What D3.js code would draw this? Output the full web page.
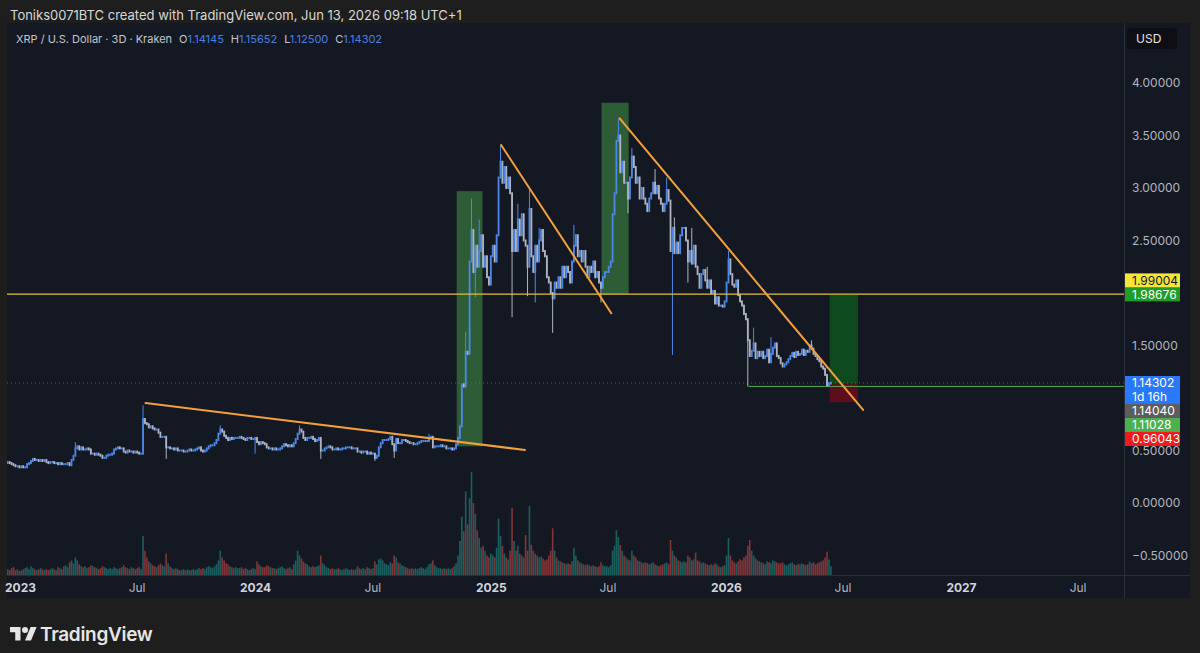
<!DOCTYPE html>
<html>
<head>
<meta charset="utf-8">
<script src="https://cdn.jsdelivr.net/npm/d3@7"></script>
<style>
  body { margin: 0; background: #1e1e1e; }
  svg { display: block; font-family: Inter, "Noto Sans", sans-serif; }
</style>
</head>
<body>
<script>
const W = 1200, H = 653;

// 3D candles, first bar opens 2022-12-13, one row ~ one month (10 bars)
const firstBar = "2022-12-13";
const firstOpen = 0.38;
const closeRows = [
  [0.39,0.38,0.37,0.36,0.35,0.35,0.34,0.35,0.34,0.34],
  [0.37,0.38,0.40,0.42,0.41,0.41,0.40,0.41,0.40,0.41],
  [0.39,0.38,0.39,0.39,0.38,0.38,0.37,0.38,0.37,0.37],
  [0.37,0.38,0.36,0.41,0.45,0.52,0.54,0.51,0.53,0.51],
  [0.51,0.52,0.51,0.47,0.47,0.46,0.47,0.46,0.45,0.43],
  [0.43,0.45,0.46,0.46,0.47,0.51,0.52,0.53,0.52,0.52],
  [0.49,0.48,0.50,0.49,0.49,0.48,0.49,0.48,0.47,0.47],
  [0.80,0.76,0.75,0.72,0.73,0.71,0.70,0.70,0.67,0.63],
  [0.63,0.63,0.53,0.53,0.52,0.52,0.51,0.52,0.50,0.50],
  [0.50,0.49,0.49,0.50,0.51,0.50,0.50,0.51,0.52,0.53],
  [0.50,0.49,0.50,0.52,0.54,0.55,0.55,0.57,0.60,0.66],
  [0.70,0.68,0.64,0.62,0.60,0.62,0.61,0.62,0.62,0.62],
  [0.63,0.62,0.61,0.60,0.62,0.62,0.61,0.61,0.62,0.58],
  [0.56,0.58,0.57,0.56,0.53,0.52,0.52,0.51,0.52,0.51],
  [0.51,0.52,0.54,0.56,0.55,0.54,0.55,0.54,0.57,0.61],
  [0.66,0.70,0.68,0.62,0.60,0.62,0.62,0.63,0.61,0.59],
  [0.60,0.62,0.50,0.50,0.52,0.53,0.54,0.53,0.51,0.51],
  [0.52,0.51,0.51,0.52,0.52,0.53,0.53,0.53,0.52,0.52],
  [0.52,0.49,0.49,0.48,0.49,0.49,0.47,0.48,0.47,0.47],
  [0.43,0.45,0.53,0.57,0.60,0.60,0.60,0.61,0.63,0.56],
  [0.50,0.61,0.57,0.57,0.60,0.60,0.59,0.58,0.57,0.57],
  [0.56,0.56,0.57,0.58,0.59,0.59,0.59,0.59,0.62,0.63],
  [0.53,0.54,0.54,0.54,0.55,0.54,0.54,0.52,0.52,0.52],
  [0.51,0.52,0.56,0.62,0.73,1.13,1.11,1.44,1.42,2.30],
  [2.60,2.20,2.45,2.25,2.40,2.55,2.25,2.35,2.15,2.08],
  [2.35,2.45,2.30,2.55,3.10,3.25,3.05,3.20,3.00,3.10],
  [2.95,2.40,2.60,2.40,2.70,2.55,2.75,2.50,2.45,2.25],
  [2.80,2.35,2.20,2.45,2.30,2.50,2.60,2.40,2.35,2.15],
  [2.10,2.00,1.95,2.10,2.05,2.15,2.05,2.25,2.15,2.25],
  [2.20,2.10,2.30,2.45,2.55,2.35,2.40,2.30,2.40,2.25],
  [2.15,2.25,2.20,2.30,2.15,2.20,2.10,2.05,2.15,2.20],
  [2.20,2.25,2.30,2.75,2.95,3.45,3.50,3.15,3.25,3.05],
  [3.05,2.90,3.10,3.30,3.20,3.05,3.10,2.90,3.00,2.90],
  [2.85,2.78,2.90,2.95,3.05,2.95,3.02,2.90,2.85,2.78],
  [2.85,2.98,2.88,2.40,2.62,2.38,2.48,2.38,2.55,2.62],
  [2.62,2.50,2.30,2.40,2.28,2.45,2.25,2.18,2.05,2.18],
  [2.22,2.12,2.05,2.12,2.00,2.02,1.90,1.96,1.88,1.88],
  [1.87,1.92,2.10,2.32,2.18,2.08,2.06,2.12,1.98,1.92],
  [1.88,1.80,1.75,1.55,1.40,1.45,1.52,1.38,1.44,1.40],
  [1.44,1.38,1.40,1.46,1.34,1.42,1.48,1.52,1.40,1.38],
  [1.33,1.30,1.32,1.34,1.37,1.40,1.43,1.39,1.44,1.41],
  [1.42,1.46,1.41,1.45,1.44,1.50,1.47,1.42,1.40,1.37],
  [1.35,1.30,1.28,1.22,1.12,1.14145,1.14302]
];

// volume per bar (millions XRP)
const volumeRows = [
  [60,50,70,80,50,60,40,50,60,70],
  [80,60,90,70,60,50,60,70,60,50],
  [60,50,60,70,60,50,80,70,60,90],
  [100,80,130,150,120,180,150,110,90,80],
  [90,70,80,100,90,80,70,60,70,90],
  [80,70,60,70,60,80,70,60,70,80],
  [100,80,70,60,80,70,60,70,80,60],
  [400,250,180,140,120,100,90,80,100,120],
  [100,90,220,120,90,70,60,70,60,50],
  [50,60,50,60,50,50,60,50,60,70],
  [60,70,60,80,90,80,70,90,110,150],
  [250,180,150,120,110,90,80,70,80,70],
  [70,80,60,70,60,50,60,70,60,140],
  [110,90,80,80,100,90,80,70,70,60],
  [70,80,90,70,60,70,80,60,110,150],
  [250,200,170,140,120,110,90,80,90,80],
  [90,100,200,120,100,80,70,60,70,60],
  [60,70,60,50,60,70,60,50,60,50],
  [60,90,70,60,70,60,80,70,60,70],
  [140,110,160,170,150,120,110,100,130,120],
  [200,180,130,120,100,90,80,70,60,70],
  [60,70,60,70,80,70,60,80,110,120],
  [150,100,80,70,70,60,70,60,70,60],
  [70,90,120,200,350,600,450,860,520,790],
  [1060,740,630,460,380,280,300,250,200,180],
  [220,200,180,280,580,400,300,220,180,160],
  [250,690,350,250,300,220,200,180,410,250],
  [710,310,250,220,200,180,190,170,150,160],
  [200,250,480,250,180,150,140,130,120,110],
  [120,110,140,280,200,150,130,120,110,100],
  [110,100,90,100,90,80,90,130,100,90],
  [90,80,100,250,300,460,390,310,250,200],
  [180,160,150,250,200,180,150,140,130,120],
  [130,120,110,120,130,110,100,90,100,110],
  [120,130,110,360,250,200,180,150,140,130],
  [140,130,200,180,150,160,230,150,140,120],
  [130,120,110,100,110,100,120,110,90,80],
  [90,100,200,380,200,150,130,120,140,160],
  [150,180,200,300,360,250,200,170,150,140],
  [130,120,110,140,130,120,150,140,130,120],
  [120,130,110,100,110,120,130,110,100,110],
  [110,120,110,100,110,140,120,130,110,120],
  [130,140,150,180,240,160,90]
];

// long wicks
const wickHighs = [
  ["2023-03-29",0.58],["2023-07-13",0.93],["2023-11-10",0.74],["2024-03-11",0.74],
  ["2024-07-31",0.64],["2024-09-29",0.66],["2024-11-24",1.63],["2024-12-03",2.90],
  ["2024-12-16",2.70],["2025-01-16",3.40],["2025-02-14",2.85],["2025-03-02",2.99],
  ["2025-03-19",2.62],["2025-05-12",2.65],["2025-07-18",3.66],["2025-08-08",3.38],
  ["2025-09-13",3.18],["2025-10-02",3.10],["2025-10-13",2.72],["2025-11-10",2.62],
  ["2025-12-05",2.25],["2026-01-06",2.40],["2026-02-15",1.67],["2026-03-13",1.58],
  ["2026-05-14",1.55],["2026-06-13",1.15652]
];
const wickLows = [
  ["2023-08-17",0.42],["2024-01-03",0.47],["2024-04-13",0.42],["2024-07-05",0.40],
  ["2024-08-05",0.43],["2024-12-10",1.96],["2025-02-03",1.77],["2025-02-28",1.97],
  ["2025-03-11",1.91],["2025-04-07",1.62],["2025-06-22",1.91],["2025-08-02",2.76],
  ["2025-10-10",1.41],["2025-11-04",2.10],["2026-02-05",1.11028],["2026-06-13",1.125]
];

// drawings
const trendLines = [
  [["2023-07-15",0.952],["2025-02-23",0.505]],
  [["2025-01-17",3.41],["2025-07-07",1.807]],
  [["2025-07-20",3.664],["2026-08-02",0.886]]
];
const highlightBoxes = [
  [["2024-11-09",2.97],["2024-12-19",0.54]],
  [["2025-06-22",3.812],["2025-08-03",1.99]]
];
const hLine = 1.99004;
const supportLine = ["2026-02-05", 1.11028];
const position = { from: "2026-06-11", to: "2026-07-25", entry: 1.14040, target: 1.98676, stop: 0.96043 };
const lastPrice = 1.14302;

// 2.00000 and 1.00000 sit under the price tags in the reference
const priceTicks = [-0.5,0,0.5,1.5,2.5,3,3.5,4];
const timeTicks = ["2023-01-01","2023-07-01","2024-01-01","2024-07-01","2025-01-01","2025-07-01","2026-01-01","2026-07-01","2027-01-01","2027-07-01"];

// tags on price scale, in placement priority
const priceTags = [
  { price: 1.14302, lines: ["1.14302","1d 16h"], bg: "#2979ff", fg: "#ffffff" },
  { price: 1.98676, lines: ["1.98676"], bg: "#1e9e26", fg: "#ffffff" },
  { price: 1.14040, lines: ["1.14040"], bg: "#5d5d5d", fg: "#ffffff" },
  { price: 1.11028, lines: ["1.11028"], bg: "#4caf50", fg: "#ffffff" },
  { price: 0.96043, lines: ["0.96043"], bg: "#f21a1a", fg: "#ffffff" },
  { price: 1.99004, lines: ["1.99004"], bg: "#f5e536", fg: "#131722" }
];

const parse = d3.utcParse("%Y-%m-%d");
const start = parse(firstBar);
const closes = closeRows.flat();
const volumes = volumeRows.flat();

const bars = closes.map((c, i) => {
  const o = i ? closes[i - 1] : firstOpen;
  return { date: d3.utcDay.offset(start, 3 * i), open: o, close: c,
           high: Math.max(o, c), low: Math.min(o, c), volume: volumes[i] };
});
const barAt = ds => bars[Math.floor(d3.utcDay.count(start, parse(ds)) / 3)];
wickHighs.forEach(([ds, p]) => { const b = barAt(ds); if (b) b.high = Math.max(b.high, p); });
wickLows.forEach(([ds, p]) => { const b = barAt(ds); if (b) b.low = Math.min(b.low, p); });

// layout
const L = 7, T = 23, R = 1190, B = 598, PR = 1124, AX = 575;

const x = d3.scaleUtc().domain([parse("2023-01-01"), parse("2027-01-01")]).range([20, 961]);
const y = d3.scaleLinear().domain([0, 4]).range([503, 83]);
const yVol = d3.scaleLinear().domain([0, 1100]).range([AX, 468]);

const svg = d3.select("body").append("svg").attr("width", W).attr("height", H);
svg.append("rect").attr("width", W).attr("height", H).attr("fill", "#1e1e1e");

// header
svg.append("text").attr("x", 10).attr("y", 20).attr("fill", "#d8d8d8")
  .attr("font-size", 13).text("Toniks0071BTC created with TradingView.com, Jun 13, 2026 09:18 UTC+1");

svg.append("rect").attr("x", L).attr("y", T).attr("width", R - L).attr("height", B - T).attr("fill", "#141823");

svg.append("defs").append("clipPath").attr("id", "plot")
  .append("rect").attr("x", L).attr("y", T).attr("width", PR - L).attr("height", AX - T);

const plot = svg.append("g").attr("clip-path", "url(#plot)");

// volume
plot.append("g").selectAll("rect").data(bars).join("rect")
  .attr("x", d => x(d.date) - 0.8).attr("width", 1.6)
  .attr("y", d => yVol(d.volume)).attr("height", d => AX - yVol(d.volume))
  .attr("fill", d => d.close >= d.open ? "rgba(38,166,154,0.5)" : "rgba(239,83,80,0.5)");

// highlight boxes
plot.append("g").selectAll("rect").data(highlightBoxes).join("rect")
  .attr("x", d => x(parse(d[0][0]))).attr("width", d => x(parse(d[1][0])) - x(parse(d[0][0])))
  .attr("y", d => y(d[0][1])).attr("height", d => y(d[1][1]) - y(d[0][1]))
  .attr("fill", "rgba(76,175,80,0.45)");

// long position tool
const px0 = x(parse(position.from)), px1 = x(parse(position.to));
plot.append("rect").attr("x", px0).attr("width", px1 - px0)
  .attr("y", y(position.target)).attr("height", y(position.entry) - y(position.target))
  .attr("fill", "rgba(0,160,20,0.36)");
plot.append("rect").attr("x", px0).attr("width", px1 - px0)
  .attr("y", y(position.entry)).attr("height", y(position.stop) - y(position.entry))
  .attr("fill", "rgba(200,0,20,0.4)");

// last price dotted line
plot.append("line").attr("x1", L).attr("x2", PR).attr("y1", y(lastPrice)).attr("y2", y(lastPrice))
  .attr("stroke", "#4f73b8").attr("stroke-dasharray", "1,3").attr("opacity", 0.8);

// support line
plot.append("line").attr("x1", x(parse(supportLine[0]))).attr("x2", PR)
  .attr("y1", y(supportLine[1])).attr("y2", y(supportLine[1]))
  .attr("stroke", "#4caf50").attr("stroke-width", 1);

// candles
const up = "#4c88e8", down = "#aeb4c2";
const cg = plot.append("g");
cg.selectAll("line").data(bars).join("line")
  .attr("x1", d => x(d.date)).attr("x2", d => x(d.date))
  .attr("y1", d => y(d.high)).attr("y2", d => y(d.low))
  .attr("stroke", d => d.close >= d.open ? up : down).attr("stroke-width", 1);
cg.selectAll("rect").data(bars).join("rect")
  .attr("x", d => x(d.date) - 0.9).attr("width", 1.8)
  .attr("y", d => y(Math.max(d.open, d.close)) - 1)
  .attr("height", d => Math.max(2, y(Math.min(d.open, d.close)) - y(Math.max(d.open, d.close)) + 2))
  .attr("fill", d => d.close >= d.open ? up : down);

// horizontal level
plot.append("line").attr("x1", L).attr("x2", PR).attr("y1", y(hLine)).attr("y2", y(hLine))
  .attr("stroke", "#e2bf3c").attr("stroke-width", 1.3);

// trend lines
plot.append("g").selectAll("line").data(trendLines).join("line")
  .attr("x1", d => x(parse(d[0][0]))).attr("y1", d => y(d[0][1]))
  .attr("x2", d => x(parse(d[1][0]))).attr("y2", d => y(d[1][1]))
  .attr("stroke", "#f4a03a").attr("stroke-width", 2).attr("stroke-linecap", "round");

// separators
svg.append("line").attr("x1", PR + 0.5).attr("x2", PR + 0.5).attr("y1", T).attr("y2", B).attr("stroke", "#2a2e39");
svg.append("line").attr("x1", L).attr("x2", R).attr("y1", AX + 0.5).attr("y2", AX + 0.5).attr("stroke", "#2a2e39");

// legend
const lg = svg.append("text").attr("x", 16).attr("y", 43).attr("font-size", 11).attr("fill", "#c4c6cc");
lg.append("tspan").text("XRP / U.S. Dollar · 3D · Kraken");
[["O","1.14145"],["H","1.15652"],["L","1.12500"],["C","1.14302"]].forEach(([k, v], i) => {
  lg.append("tspan").attr("dx", i ? 7 : 7).attr("fill", "#c4c6cc").text(k);
  lg.append("tspan").attr("fill", "#4a7fe6").text(v);
});

// price axis
const yAxis = svg.append("g").attr("transform", `translate(${PR},0)`)
  .call(d3.axisRight(y).tickValues(priceTicks).tickFormat(d3.format(".5f")).tickSize(0));
yAxis.select(".domain").remove();
yAxis.selectAll("text").attr("x", 8).attr("fill", "#b2b5be").attr("font-size", 12)
  .attr("font-family", "Inter, 'Noto Sans', sans-serif");

// USD button
svg.append("rect").attr("x", 1127).attr("y", 28).attr("width", 50).attr("height", 21).attr("rx", 4).attr("fill", "#0d0f14");
svg.append("text").attr("x", 1136).attr("y", 43).attr("font-size", 12).attr("fill", "#e0e3eb").text("USD");

// price tags, pushed apart when they collide
const placed = [];
priceTags.forEach(t => {
  const h = 14 * t.lines.length;
  let top = y(t.price) - 7;
  let moved = true;
  while (moved) {
    moved = false;
    for (const p of placed) {
      if (top < p.top + p.h && top + h > p.top) {
        top = t.price < p.price ? p.top + p.h : p.top - h;
        moved = true;
      }
    }
  }
  placed.push({ price: t.price, top, h, tag: t });
});
const tg = svg.append("g");
placed.forEach(p => {
  tg.append("rect").attr("x", 1125).attr("y", p.top).attr("width", 55).attr("height", p.h)
    .attr("fill", p.tag.bg);
  p.tag.lines.forEach((s, i) => {
    tg.append("text").attr("x", 1132).attr("y", p.top + 7 + 14 * i).attr("dy", "0.35em")
      .attr("font-size", 12).attr("fill", p.tag.fg).text(s);
  });
});

// time axis
const xAxis = svg.append("g").attr("transform", `translate(0,${AX})`)
  .call(d3.axisBottom(x).tickValues(timeTicks.map(parse)).tickSize(0)
    .tickFormat(d => d.getUTCMonth() === 0 ? d3.utcFormat("%Y")(d) : d3.utcFormat("%b")(d)));
xAxis.select(".domain").remove();
xAxis.selectAll("text").attr("y", 13).attr("dy", "0.35em").attr("font-size", 12)
  .attr("font-family", "Inter, 'Noto Sans', sans-serif")
  .attr("fill", d => d.getUTCMonth() === 0 ? "#d1d4dc" : "#b2b5be")
  .attr("font-weight", d => d.getUTCMonth() === 0 ? 700 : 400);

// TradingView logo
const logo = svg.append("g").attr("transform", "translate(10,624) scale(0.75)").attr("fill", "#e6e6e6");
logo.append("path").attr("d", "M14 22H7V11H0V4h14v18zM28 22h-8l7.5-18h8L28 22z");
logo.append("circle").attr("cx", 20).attr("cy", 8).attr("r", 4);
svg.append("text").attr("x", 40).attr("y", 641).attr("font-size", 19).attr("font-weight", 600)
  .attr("fill", "#e6e6e6").attr("letter-spacing", -0.3).text("TradingView");
</script>
</body>
</html>
